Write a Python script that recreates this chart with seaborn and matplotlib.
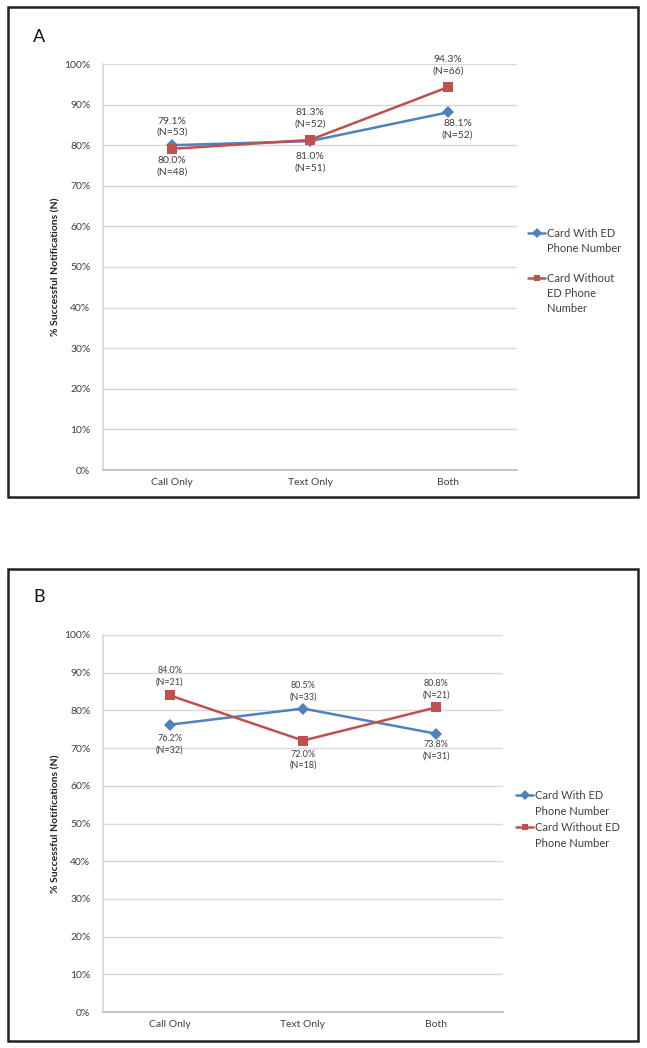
import pandas as pd
import seaborn as sns
from matplotlib import pyplot as plt
from matplotlib.lines import Line2D
from matplotlib.patches import Rectangle
from matplotlib.ticker import PercentFormatter

# Data
categories = ['Call Only', 'Text Only', 'Both']
series_names = ['Card With ED Phone Number', 'Card Without ED Phone Number']

a_with = [80.0, 81.0, 88.1]
a_with_n = [48, 51, 52]
a_without = [79.1, 81.3, 94.3]
a_without_n = [53, 52, 66]

b_with = [76.2, 80.5, 73.8]
b_with_n = [32, 33, 31]
b_without = [84.0, 72.0, 80.8]
b_without_n = [21, 18, 21]

# legend lines as they wrap in each panel
legend_a = [['Card With ED', 'Phone Number'], ['Card Without', 'ED Phone', 'Number']]
legend_b = [['Card With ED', 'Phone Number'], ['Card Without ED', 'Phone Number']]

BLUE = '#4F81BD'
RED = '#C0504D'
TXT = '#404040'
W, H = 647, 1048

sns.set_theme(style='white')
plt.rcParams['font.family'] = ['Lato', 'DejaVu Sans']


def make_frame(w, wn, wo, won):
    rows = []
    for i, c in enumerate(categories):
        rows.append({'cat': c, 'x': i, 'val': w[i], 'n': wn[i], 'series': series_names[0]})
        rows.append({'cat': c, 'x': i, 'val': wo[i], 'n': won[i], 'series': series_names[1]})
    return pd.DataFrame(rows)


def panel(fig, box, df, label_pos, fsize, legend_lines, legend_anchor, gap_row, spacing):
    l, t, r, b = box
    ax = fig.add_axes([l / W, 1 - b / H, (r - l) / W, (b - t) / H])
    sns.lineplot(data=df, x='x', y='val', hue='series', style='series',
                 palette=[BLUE, RED], markers=['D', 's'], dashes=False,
                 markersize=6.5, linewidth=1.8, markeredgewidth=0, ax=ax)
    ax.set_xlim(-0.5, 2.5)
    ax.set_ylim(0, 100)
    ax.set_yticks(range(0, 101, 10))
    ax.yaxis.set_major_formatter(PercentFormatter(decimals=0))
    ax.set_xticks(range(3))
    ax.set_xticklabels(categories)
    ax.tick_params(axis='both', length=0, labelsize=7.5, colors=TXT)
    ax.tick_params(axis='y', pad=9)
    ax.tick_params(axis='x', pad=6)
    ax.grid(axis='y', color='#D9D9D9', linewidth=1)
    ax.set_axisbelow(True)
    for s in ['top', 'right']:
        ax.spines[s].set_visible(False)
    ax.spines['left'].set_color('#D9D9D9')
    ax.spines['bottom'].set_color('#BFBFBF')
    ax.set_xlabel('')
    ax.set_ylabel('% Successful Notifications (N)', fontsize=7.5, fontweight='bold',
                  color='#222222')
    ax.yaxis.set_label_coords((60 - l) / (r - l), 0.5)

    # data labels
    for (_, row), (dx, dy) in zip(df.iterrows(), label_pos):
        ax.annotate(f"{row['val']:.1f}%\n(N={row['n']})", (row['x'], row['val']),
                    xytext=(dx, dy), textcoords='offset points',
                    ha='center', va='bottom' if dy > 0 else 'top',
                    fontsize=fsize, color=TXT, linespacing=1.35)

    # legend: handle sits on the first line of each wrapped label
    handles, _ = ax.get_legend_handles_labels()
    blank = Line2D([], [], linestyle='none')
    hs, ls = [], []
    for k, (h, lines) in enumerate(zip(handles, legend_lines)):
        if k > 0 and gap_row:
            hs.append(blank)
            ls.append(' ')
        hs.append(h)
        ls.append(lines[0])
        for extra in lines[1:]:
            hs.append(blank)
            ls.append(extra)
    ax.legend(hs, ls, loc='upper left', bbox_to_anchor=legend_anchor, frameon=False,
              fontsize=8, handlelength=1.55, handletextpad=0.15, labelspacing=spacing,
              markerscale=0.75, borderpad=0, borderaxespad=0, labelcolor=TXT)
    return ax


fig = plt.figure(figsize=(W / 100, H / 100), dpi=100)

# outer frames
for top, bottom in [(7, 497), (569, 1041)]:
    fig.patches.append(Rectangle((8 / W, 1 - bottom / H), 630 / W, (bottom - top) / H,
                                 transform=fig.transFigure, fill=False,
                                 edgecolor='#222222', linewidth=1.8))
fig.text(39 / W, 1 - 37 / H, 'A', fontsize=13, ha='center', va='center', color='#111111')
fig.text(39 / W, 1 - 597 / H, 'B', fontsize=13, ha='center', va='center', color='#111111')

df_a = make_frame(a_with, a_with_n, a_without, a_without_n)
# order in df: cat0 with, cat0 without, cat1 with, cat1 without, cat2 with, cat2 without
pos_a = [(0, -8), (0, 8.5), (0, -8), (0, 8.5), (7, -5), (0, 8.5)]
panel(fig, (103, 64, 517, 470), df_a, pos_a, 7.5, legend_a, (1.027, 0.596), True, 0.36)

df_b = make_frame(b_with, b_with_n, b_without, b_without_n)
pos_b = [(0, -6.5), (0, 6.5), (0, 5), (0, -6.5), (0, -4.5), (0, 5.5)]
panel(fig, (103, 635, 503, 1012), df_b, pos_b, 6.5, legend_b, (1.0325, 0.589), False, 0.45)

plt.savefig('out.png', dpi=100)
